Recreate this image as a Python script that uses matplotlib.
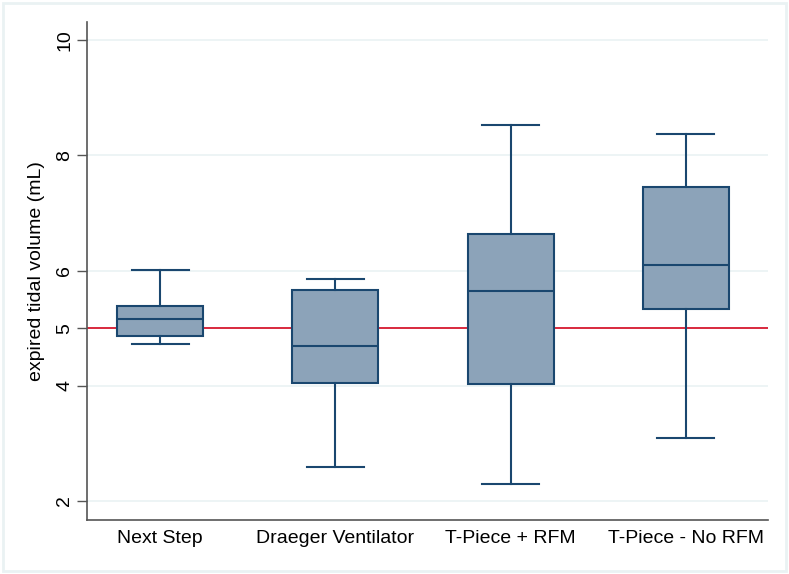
import matplotlib
matplotlib.use("Agg")
import matplotlib.pyplot as plt
from matplotlib.patches import Rectangle

plt.rcParams['font.family'] = ['Liberation Sans', 'DejaVu Sans']

# data (mL)
groups = ["Next Step", "Draeger Ventilator", "T-Piece + RFM", "T-Piece - No RFM"]
whisk_lo = [4.72, 2.59, 2.30, 3.09]
q1 = [4.87, 4.05, 4.03, 5.33]
med = [5.165, 4.685, 5.65, 6.09]
q3 = [5.385, 5.66, 6.635, 7.45]
whisk_hi = [6.01, 5.85, 8.53, 8.37]
yticks = [2, 4, 5, 6, 8, 10]
ref_line = 5

navy = "#1a476f"
fill = "#8ca3b9"
grid_col = "#eaf2f3"

fig = plt.figure(figsize=(7.89, 5.74), dpi=100)
ax = fig.add_axes([0.1103, 0.0941, 0.8631, 0.8676])

stats = []
for i, g in enumerate(groups):
    stats.append(dict(label=g, whislo=whisk_lo[i], q1=q1[i], med=med[i],
                      q3=q3[i], whishi=whisk_hi[i], fliers=[]))

pos = [1, 2, 3, 4]
ax.axhline(ref_line, color="#d7192f", lw=1.3, zorder=1)
bp = ax.bxp(stats, positions=pos, widths=0.49, capwidths=0.325,
            patch_artist=True, showfliers=False, zorder=3,
            boxprops=dict(facecolor=fill, edgecolor=navy, linewidth=1.5),
            medianprops=dict(color=navy, linewidth=1.5),
            whiskerprops=dict(color=navy, linewidth=1.5),
            capprops=dict(color=navy, linewidth=1.5))

ax.set_xlim(0.583, 4.469)
ax.set_ylim(1.67, 10.316)
ax.set_yticks(yticks)
ax.set_yticklabels([str(t) for t in yticks], rotation=90, va="center", fontsize=14)
ax.tick_params(axis="y", length=7, width=1, color="#555555", pad=3)
ax.tick_params(axis="x", length=0, labelsize=14, pad=7)
ax.set_xticks(pos)
ax.set_xticklabels(groups)
ax.set_ylabel("expired tidal volume (mL)", fontsize=14, labelpad=8)

ax.grid(axis="y", color=grid_col, lw=1.2, zorder=0)
ax.set_axisbelow(True)
for s in ["top", "right"]:
    ax.spines[s].set_visible(False)
for s in ["left", "bottom"]:
    ax.spines[s].set_color("#555555")
    ax.spines[s].set_linewidth(1.2)

# outer frame of the graph region
fig.patches.append(Rectangle((0.004, 0.005), 0.992, 0.99, transform=fig.transFigure,
                             fill=False, edgecolor=grid_col, lw=2))

fig.savefig("out.png", dpi=100)
